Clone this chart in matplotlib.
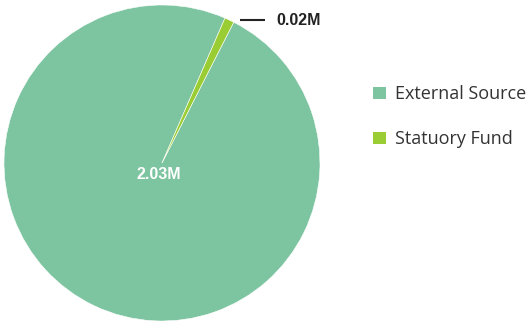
import matplotlib
matplotlib.use("Agg")
import matplotlib.pyplot as plt
import numpy as np

categories = ["External Source", "Statuory Fund"]
values = [2.03, 0.02]
labels = ["2.03M", "0.02M"]
colors = ["#7dc4a0", "#9acd33"]

W, H = 529, 326
fig = plt.figure(figsize=(W / 100, H / 100), dpi=100)

# pie centre and radius in pixels
cx, cy, r = 162, 163, 158
ax = fig.add_axes([(cx - r) / W, (H - cy - r) / H, 2 * r / W, 2 * r / H])
ax.set_aspect("equal")

wedges, _ = ax.pie(values, colors=colors, startangle=63, counterclock=False,
                   radius=1.0, wedgeprops=dict(edgecolor="white", linewidth=0.4))
ax.set_xlim(-1, 1)
ax.set_ylim(-1, 1)
ax.axis("off")

label_font = dict(family=["Liberation Sans", "DejaVu Sans"], fontweight="bold", fontsize=11.5)

# large slice label sits near the centre
ax.text(-0.02, -0.07, labels[0], color="white", ha="center", va="center", **label_font)

# small slice: leader line to the right from its outer edge
w = wedges[1]
mid = np.deg2rad((w.theta1 + w.theta2) / 2)
ex, ey = np.cos(mid), np.sin(mid)
px = 1 / r
ax.plot([ex + 11 * px, ex + 36 * px], [ey, ey], color="#222222",
        lw=1.5, clip_on=False, solid_capstyle="butt")
ax.text(ex + 47 * px, ey, labels[1], color="#222222", ha="left", va="center",
        **label_font)

leg = fig.legend(wedges, categories, loc="upper left",
                 bbox_to_anchor=(357 / W, 1 - 69 / H), frameon=False,
                 prop=dict(family=["Open Sans", "DejaVu Sans"], size=13),
                 handlelength=0.72, handleheight=0.72, handletextpad=0.5,
                 labelspacing=1.5, labelcolor="#333333")
for h in leg.legend_handles:
    h.set_edgecolor("none")

fig.savefig("out.png", dpi=100)
